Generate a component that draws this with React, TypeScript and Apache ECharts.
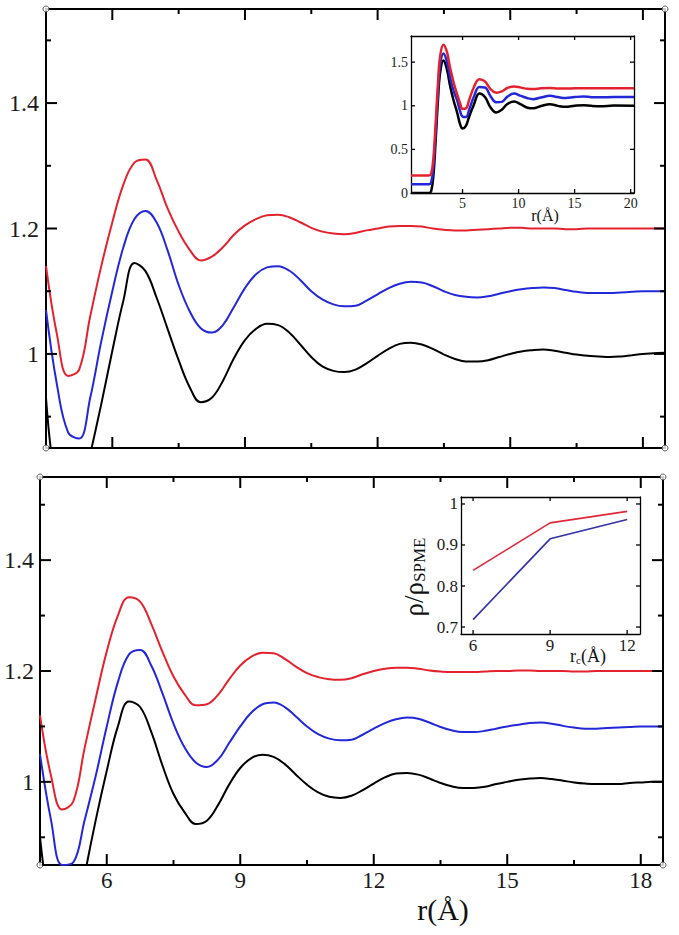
import React, { useEffect, useRef } from 'react';
import * as echarts from 'echarts';

// ---------- data ----------
const R_MAIN = [4.5, 4.75, 5, 5.25, 5.5, 5.75, 6, 6.25, 6.5, 6.75, 7, 7.25, 7.5, 7.75, 8, 8.25, 8.5, 8.75, 9, 9.25, 9.5, 9.75, 10, 10.25, 10.5, 10.75, 11, 11.25, 11.5, 11.75, 12, 12.25, 12.5, 12.75, 13, 13.25, 13.5, 13.75, 14, 14.25, 14.5, 14.75, 15, 15.25, 15.5, 15.75, 16, 16.25, 16.5, 16.75, 17, 17.25, 17.5, 17.75, 18, 18.25, 18.5];

const TOP_BLACK = [0.93, 0.78, 0.74, 0.76, 0.84, 0.92, 1.005, 1.085, 1.145, 1.132, 1.09, 1.04, 0.99, 0.947, 0.923, 0.93, 0.957, 0.993, 1.022, 1.04, 1.048, 1.046, 1.034, 1.015, 0.995, 0.98, 0.973, 0.971, 0.975, 0.985, 0.997, 1.008, 1.016, 1.018, 1.015, 1.008, 0.999, 0.992, 0.988, 0.988, 0.99, 0.995, 1.0, 1.004, 1.006, 1.007, 1.005, 1.002, 0.999, 0.997, 0.996, 0.995, 0.996, 0.998, 1.0, 1.001, 1.002];
const TOP_BLUE = [1.07, 0.95, 0.875, 0.865, 0.93, 1.02, 1.1, 1.17, 1.215, 1.228, 1.21, 1.165, 1.11, 1.068, 1.041, 1.034, 1.046, 1.075, 1.105, 1.127, 1.138, 1.14, 1.133, 1.118, 1.1, 1.087, 1.079, 1.076, 1.077, 1.085, 1.095, 1.105, 1.112, 1.115, 1.114, 1.108, 1.1, 1.094, 1.091, 1.09, 1.092, 1.096, 1.1, 1.103, 1.105, 1.106, 1.105, 1.102, 1.099, 1.097, 1.097, 1.097, 1.098, 1.099, 1.1, 1.1, 1.1];
const TOP_RED = [1.14, 1.03, 0.965, 0.975, 1.06, 1.14, 1.21, 1.27, 1.305, 1.31, 1.278, 1.232, 1.195, 1.166, 1.149, 1.155, 1.17, 1.19, 1.205, 1.215, 1.221, 1.222, 1.218, 1.21, 1.201, 1.195, 1.192, 1.191, 1.193, 1.197, 1.2, 1.203, 1.204, 1.204, 1.203, 1.2, 1.198, 1.197, 1.197, 1.198, 1.199, 1.2, 1.201, 1.201, 1.2, 1.2, 1.2, 1.199, 1.199, 1.2, 1.2, 1.2, 1.2, 1.2, 1.2, 1.2, 1.2];

const BOT_BLACK = [0.9, 0.76, 0.7, 0.72, 0.83, 0.93, 1.02, 1.1, 1.145, 1.135, 1.09, 1.03, 0.978, 0.945, 0.924, 0.93, 0.958, 0.995, 1.025, 1.043, 1.049, 1.045, 1.032, 1.013, 0.995, 0.981, 0.973, 0.971, 0.975, 0.985, 0.997, 1.008, 1.015, 1.016, 1.013, 1.006, 0.998, 0.992, 0.989, 0.989, 0.991, 0.996, 1.0, 1.004, 1.006, 1.007, 1.005, 1.002, 0.999, 0.997, 0.996, 0.996, 0.996, 0.998, 0.999, 1.0, 1.0];
const BOT_BLUE = [1.05, 0.93, 0.85, 0.855, 0.93, 1.01, 1.1, 1.18, 1.23, 1.238, 1.21, 1.16, 1.105, 1.062, 1.035, 1.027, 1.04, 1.07, 1.1, 1.125, 1.14, 1.143, 1.135, 1.118, 1.1, 1.086, 1.078, 1.075, 1.076, 1.085, 1.096, 1.106, 1.113, 1.116, 1.114, 1.107, 1.099, 1.093, 1.09, 1.09, 1.092, 1.096, 1.1, 1.103, 1.106, 1.107, 1.105, 1.101, 1.098, 1.096, 1.096, 1.097, 1.098, 1.099, 1.1, 1.1, 1.1];
const BOT_RED = [1.12, 1.01, 0.95, 0.965, 1.06, 1.15, 1.235, 1.3, 1.333, 1.325, 1.285, 1.235, 1.19, 1.158, 1.138, 1.14, 1.157, 1.185, 1.21, 1.226, 1.233, 1.232, 1.222, 1.208, 1.196, 1.189, 1.185, 1.184, 1.187, 1.194, 1.2, 1.204, 1.206, 1.206, 1.204, 1.201, 1.199, 1.198, 1.198, 1.198, 1.199, 1.2, 1.2, 1.201, 1.201, 1.2, 1.2, 1.2, 1.199, 1.199, 1.2, 1.2, 1.2, 1.2, 1.2, 1.2, 1.2];

const R_IN = [0.4, 1.0, 1.5, 2.0, 2.2, 2.4, 2.6, 2.8, 3.0, 3.3, 3.6, 3.9, 4.2, 4.5, 4.8, 5.0, 5.3, 5.6, 6.0, 6.5, 7.0, 7.5, 8.0, 8.5, 9.0, 9.6, 10.2, 10.8, 11.3, 12.0, 12.8, 13.5, 14.2, 15.0, 15.8, 16.5, 17.3, 18.5, 20.3];
const IN_BLACK = [0, 0, 0, 0, 0.02, 0.2, 0.6, 1.05, 1.38, 1.52, 1.42, 1.22, 1.06, 0.93, 0.78, 0.74, 0.77, 0.88, 1.01, 1.14, 1.1, 0.98, 0.922, 0.955, 1.02, 1.048, 1.015, 0.978, 0.971, 0.997, 1.018, 0.999, 0.988, 1.0, 1.007, 0.999, 0.995, 1.002, 1.0];
const IN_BLUE = [0.1, 0.1, 0.1, 0.1, 0.12, 0.3, 0.7, 1.14, 1.47, 1.6, 1.51, 1.32, 1.17, 1.07, 0.93, 0.875, 0.87, 0.96, 1.1, 1.215, 1.21, 1.11, 1.04, 1.045, 1.105, 1.14, 1.113, 1.087, 1.076, 1.095, 1.115, 1.1, 1.09, 1.1, 1.106, 1.099, 1.097, 1.1, 1.1];
const IN_RED = [0.2, 0.2, 0.2, 0.2, 0.22, 0.4, 0.8, 1.24, 1.57, 1.7, 1.62, 1.43, 1.27, 1.14, 1.02, 0.965, 0.97, 1.07, 1.21, 1.305, 1.28, 1.19, 1.15, 1.165, 1.204, 1.222, 1.208, 1.194, 1.191, 1.2, 1.204, 1.198, 1.197, 1.2, 1.201, 1.2, 1.2, 1.2, 1.2];

const RC = [6, 9, 12];
const RHO_RED = [0.838, 0.954, 0.982];
const RHO_BLUE = [0.718, 0.915, 0.962];

// tick values
const X_MAJOR = [6, 9, 12, 15, 18];
const X_MINOR = [7.5, 10.5, 13.5, 16.5];
const Y_MAJOR = [1, 1.2, 1.4];
const Y_MINOR = [0.9, 1.1, 1.3, 1.5];
const IN_X_TICKS = [5, 10, 15, 20];
const IN_Y_TICKS = [0, 0.5, 1, 1.5];
const RC_TICKS = [6, 9, 12];
const RHO_TICKS = [0.7, 0.8, 0.9, 1];

const MAIN_X = [4.5, 18.5], MAIN_Y = [0.85, 1.55];
const IN_X = [0.4, 20.3], IN_Y = [0, 1.8];
const RC_X = [5.53, 12.5], RHO_Y = [0.683, 1.017];

// ---------- styling ----------
const SERIF = "'Liberation Serif', 'Times New Roman', serif";
const RED = '#e3222e';
const BLUE = '#2228d8';
const BLACK = '#000000';

const fmt = (v: number) => String(Number(Number(v).toFixed(2)));
const zip = (xs: number[], ys: number[]) => xs.map((x, i) => [x, ys[i]]);

const grids = [
  { left: 46, top: 9, width: 619, height: 439 },
  { left: 40, top: 477, width: 623, height: 388 },
  { left: 411, top: 36, width: 223, height: 157, show: true, backgroundColor: '#fff', borderWidth: 0 },
  { left: 461, top: 497, width: 179, height: 137, show: true, backgroundColor: '#fff', borderWidth: 0 },
];

// two axes per dimension per grid: primary (bottom/left, labels) and mirror (top/right)
function frameAxes(dim: 'x' | 'y', gridIndex: number, ext: number[], labels: number[] | null,
  fontSize: number, margin: number, lw: number) {
  const pos = dim === 'x' ? ['bottom', 'top'] : ['left', 'right'];
  const base = {
    type: 'value', gridIndex, min: ext[0], max: ext[1],
    splitLine: { show: false }, axisTick: { show: false },
    axisLine: { show: true, onZero: false, lineStyle: { color: '#000', width: lw } },
  };
  return [
    { ...base, position: pos[0],
      axisLabel: labels ? { show: true, customValues: labels, formatter: fmt, fontFamily: SERIF, color: '#1a1a1a', fontSize, margin } : { show: false } },
    { ...base, position: pos[1], axisLabel: { show: false } },
  ];
}

const xAxes = [
  ...frameAxes('x', 0, MAIN_X, null, 23, 4, 2),
  ...frameAxes('x', 1, MAIN_X, X_MAJOR, 23, 4, 2),
  ...frameAxes('x', 2, IN_X, IN_X_TICKS, 14, 3, 1.3),
  ...frameAxes('x', 3, RC_X, RC_TICKS, 17, 3, 1.3),
];
const yAxes = [
  ...frameAxes('y', 0, MAIN_Y, Y_MAJOR, 24, 7, 2),
  ...frameAxes('y', 1, MAIN_Y, Y_MAJOR, 24, 6, 2),
  ...frameAxes('y', 2, IN_Y, IN_Y_TICKS, 14, 3, 1.3),
  ...frameAxes('y', 3, RHO_Y, RHO_TICKS, 17, 3, 1.3),
];

// tick specification per grid: values and lengths (drawn after layout, via convertToPixel)
const TICK_SPECS = [
  { g: 0, xExt: MAIN_X, yExt: MAIN_Y, xMajor: X_MAJOR, xMinor: X_MINOR, yMajor: Y_MAJOR, yMinor: Y_MINOR, majorLen: 11, minorLen: 5, lw: 2 },
  { g: 1, xExt: MAIN_X, yExt: MAIN_Y, xMajor: X_MAJOR, xMinor: X_MINOR, yMajor: Y_MAJOR, yMinor: Y_MINOR, majorLen: 11, minorLen: 5, lw: 2 },
  { g: 2, xExt: IN_X, yExt: IN_Y, xMajor: IN_X_TICKS, xMinor: [], yMajor: IN_Y_TICKS, yMinor: [], majorLen: 4, minorLen: 0, lw: 1.3 },
  { g: 3, xExt: RC_X, yExt: RHO_Y, xMajor: RC_TICKS, xMinor: [], yMajor: RHO_TICKS, yMinor: [], majorLen: 4, minorLen: 0, lw: 1.3 },
];

function lineSeries(name: string, axis: number, xs: number[], ys: number[], color: string, width: number) {
  return {
    name, type: 'line', xAxisIndex: axis, yAxisIndex: axis, data: zip(xs, ys),
    showSymbol: false, symbol: 'none', smooth: 0.4, clip: true,
    lineStyle: { color, width },
  };
}

function corners(axis: number) {
  return {
    type: 'scatter', xAxisIndex: axis, yAxisIndex: axis, clip: false,
    symbol: 'circle', symbolSize: 6,
    itemStyle: { color: '#fff', borderColor: '#333', borderWidth: 1 },
    data: [[MAIN_X[0], MAIN_Y[0]], [MAIN_X[1], MAIN_Y[0]], [MAIN_X[0], MAIN_Y[1]], [MAIN_X[1], MAIN_Y[1]]],
  };
}

const series = [
  lineSeries('top black', 0, R_MAIN, TOP_BLACK, BLACK, 2),
  lineSeries('top blue', 0, R_MAIN, TOP_BLUE, BLUE, 2),
  lineSeries('top red', 0, R_MAIN, TOP_RED, RED, 2),
  lineSeries('bottom black', 2, R_MAIN, BOT_BLACK, BLACK, 2),
  lineSeries('bottom blue', 2, R_MAIN, BOT_BLUE, BLUE, 2),
  lineSeries('bottom red', 2, R_MAIN, BOT_RED, RED, 2),
  lineSeries('inset black', 4, R_IN, IN_BLACK, BLACK, 2.5),
  lineSeries('inset blue', 4, R_IN, IN_BLUE, BLUE, 2.5),
  lineSeries('inset red', 4, R_IN, IN_RED, RED, 2.5),
  { ...lineSeries('rho red', 6, RC, RHO_RED, '#e0283a', 1.6), smooth: false },
  { ...lineSeries('rho blue', 6, RC, RHO_BLUE, '#3232a8', 1.6), smooth: false },
  corners(0),
  corners(2),
];

const textGraphics = [
  { id: 'title-main', type: 'text', x: 443, y: 909,
    style: { text: 'r(Å)', font: `30px ${SERIF}`, fill: '#111', align: 'center', verticalAlign: 'middle' } },
  { id: 'title-inset1', type: 'text', x: 545, y: 215,
    style: { text: 'r(Å)', font: `16px ${SERIF}`, fill: '#111', align: 'center', verticalAlign: 'middle' } },
  { id: 'title-inset2x', type: 'text', x: 588, y: 656,
    style: {
      text: '{a|r}{b|c}{a|(Å)}', align: 'center', verticalAlign: 'middle', fill: '#111',
      rich: {
        a: { fontFamily: SERIF, fontSize: 18, fill: '#111', verticalAlign: 'bottom' },
        b: { fontFamily: SERIF, fontSize: 11, fill: '#111', verticalAlign: 'bottom' },
      },
    } },
  { id: 'title-inset2y', type: 'text', x: 414, y: 577, rotation: Math.PI / 2,
    style: {
      text: '{a|ρ/ρ}{b|SPME}', align: 'center', verticalAlign: 'middle', fill: '#111',
      rich: {
        a: { fontFamily: SERIF, fontSize: 27, fill: '#111', verticalAlign: 'bottom' },
        b: { fontFamily: SERIF, fontSize: 17, fill: '#111', verticalAlign: 'bottom' },
      },
    } },
];

const option = {
  animation: false,
  backgroundColor: '#ffffff',
  grid: grids,
  xAxis: xAxes,
  yAxis: yAxes,
  series,
  graphic: textGraphics,
};

// build inward tick segments from the chart's own scales
function buildTicks(chart: any) {
  const out: any[] = [];
  let k = 0;
  TICK_SPECS.forEach(s => {
    const finder = { xAxisIndex: s.g * 2, yAxisIndex: s.g * 2 };
    const px = (x: number, y: number) => chart.convertToPixel(finder, [x, y]);
    const seg = (a: number[], b: number[]) => {
      if (!a || !b || a.some(isNaN) || b.some(isNaN)) return;
      out.push({
        id: 'tick' + (k++), type: 'line', z: 100, silent: true,
        shape: { x1: a[0], y1: a[1], x2: b[0], y2: b[1] },
        style: { stroke: '#000', lineWidth: s.lw },
      });
    };
    const xs = (vals: number[], len: number) => vals.forEach(v => {
      const b = px(v, s.yExt[0]);
      const t = px(v, s.yExt[1]);
      seg(b, [b[0], b[1] - len]);
      seg(t, [t[0], t[1] + len]);
    });
    const ys = (vals: number[], len: number) => vals.forEach(v => {
      const l = px(s.xExt[0], v);
      const r = px(s.xExt[1], v);
      seg(l, [l[0] + len, l[1]]);
      seg(r, [r[0] - len, r[1]]);
    });
    xs(s.xMajor, s.majorLen); xs(s.xMinor, s.minorLen);
    ys(s.yMajor, s.majorLen); ys(s.yMinor, s.minorLen);
  });
  return out;
}

export default function App() {
  const ref = useRef<HTMLDivElement>(null);
  useEffect(() => {
    if (!ref.current) return;
    const chart = echarts.init(ref.current, null, { renderer: 'svg' });
    chart.setOption(option as any);
    try {
      const ticks = buildTicks(chart);
      chart.setOption({ graphic: [...textGraphics, ...ticks] } as any);
    } catch (e) {
      // keep the chart without ticks if conversion fails
    }
    return () => chart.dispose();
  }, []);
  return (
    <div
      ref={ref}
      style={{ position: 'fixed', left: 0, top: 0, width: 679, height: 935, background: '#fff' }}
    />
  );
}
